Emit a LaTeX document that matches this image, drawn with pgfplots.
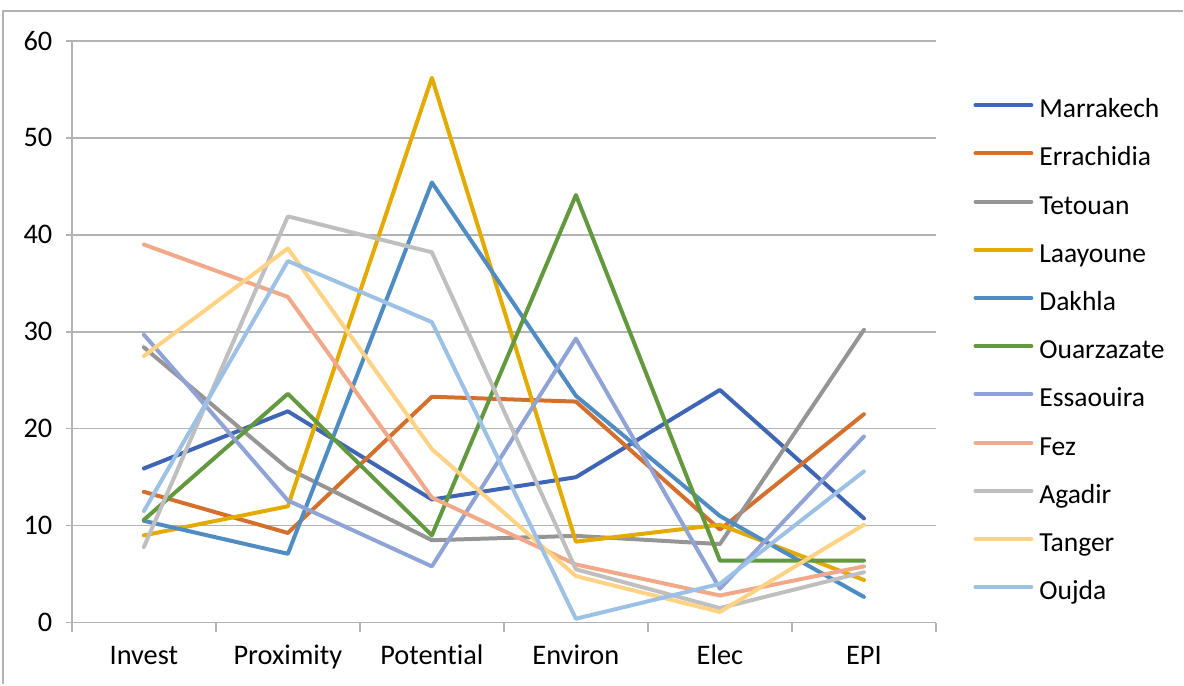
\documentclass[border=0pt]{standalone}
\usepackage{fontspec}
\setmainfont{Carlito}[Ligatures={NoCommon}]
\usepackage{pgfplots}
\usepackage{pgfplotstable}
\pgfplotsset{compat=1.18}

\definecolor{cMar}{HTML}{3F66B4}
\definecolor{cErr}{HTML}{D4702D}
\definecolor{cTet}{HTML}{959595}
\definecolor{cLaa}{HTML}{E3AA00}
\definecolor{cDak}{HTML}{4F8CC4}
\definecolor{cOua}{HTML}{62993E}
\definecolor{cEss}{HTML}{8FA3D6}
\definecolor{cFez}{HTML}{F1A98A}
\definecolor{cAga}{HTML}{BFBFBF}
\definecolor{cTan}{HTML}{FFD284}
\definecolor{cOuj}{HTML}{9DC1E4}
\definecolor{gridc}{HTML}{B3B3B3}

% x: 0 Invest, 1 Proximity, 2 Potential, 3 Environ, 4 Elec, 5 EPI
\pgfplotstableread{
x  Mar   Err   Tet   Laa   Dak   Oua   Ess   Fez   Aga   Tan   Ouj
0  15.9  13.5  28.4  9.0   10.5  10.6  29.7  39.0  7.8   27.5  11.5
1  21.8  9.25  15.9  12.0  7.1   23.6  12.6  33.6  41.9  38.6  37.3
2  12.7  23.3  8.5   56.2  45.4  9.0   5.8   12.9  38.2  17.9  31.0
3  15.0  22.8  8.95  8.35  23.4  44.1  29.3  6.0   5.5   4.8   0.4
4  24.0  9.6   8.1   10.1  11.0  6.4   3.5   2.8   1.5   1.1   4.0
5  10.75 21.5  30.2  4.4   2.65  6.4   19.2  5.8   5.2   10.1  15.6
}\citydata

\begin{document}
\begin{tikzpicture}
\fontsize{13.8bp}{16bp}\selectfont
\begin{axis}[
  at={(0,0)}, anchor=south west,
  width=433bp, height=291.5bp, scale only axis,
  xmin=-0.5, xmax=5.5, ymin=0, ymax=60,
  ytick={0,10,...,60},
  xtick={0,...,5},
  xticklabels={Invest,Proximity,Potential,Environ,Elec,EPI},
  minor xtick={-0.5,0.5,...,5.5},
  xtick style={draw=none},
  minor x tick style={draw=gridc, line width=0.75bp},
  y tick style={draw=gridc, line width=0.75bp},
  major tick length=3bp, minor tick length=4.5bp,
  tick align=outside,
  axis x line*=bottom, axis y line*=left,
  axis line style={draw=gridc, line width=0.75bp},
  ymajorgrids, grid style={draw=gridc, line width=0.75bp},
  /pgf/number format/assume math mode=true,
  tick label style={font=\fontsize{14.2bp}{16bp}\selectfont},
  xticklabel style={yshift=-3.5bp, text height=9.5bp, text depth=3bp},
  yticklabel style={xshift=-2bp},
  every axis plot/.append style={line width=2bp, line join=round, line cap=round, no markers},
  legend image code/.code={\draw[#1] (0bp,3.3bp) -- (28bp,3.3bp);},
  legend cell align=left,
  legend style={draw=none, fill=none, at={(1.043,0.464)}, anchor=west,
    inner sep=0pt, column sep=3bp, row sep=12.15bp,
    nodes={inner sep=0pt, text height=9bp, text depth=3bp},
    font=\fontsize{13.8bp}{16bp}\selectfont},
]
\addplot[cMar] table[x=x, y=Mar] {\citydata};
\addplot[cErr] table[x=x, y=Err] {\citydata};
\addplot[cTet] table[x=x, y=Tet] {\citydata};
\addplot[cLaa] table[x=x, y=Laa] {\citydata};
\addplot[cDak] table[x=x, y=Dak] {\citydata};
\addplot[cOua] table[x=x, y=Oua] {\citydata};
\addplot[cEss] table[x=x, y=Ess] {\citydata};
\addplot[cFez] table[x=x, y=Fez] {\citydata};
\addplot[cAga] table[x=x, y=Aga] {\citydata};
\addplot[cTan] table[x=x, y=Tan] {\citydata};
\addplot[cOuj] table[x=x, y=Ouj] {\citydata};
\legend{Marrakech,Errachidia,Tetouan,Laayoune,Dakhla,Ouarzazate,Essaouira,Fez,Agadir,Tanger,Oujda}
\end{axis}
% outer chart frame (top and left edges visible)
\draw[gridc, line width=0.6bp] (-34.5bp,-31bp) -- (-34.5bp,306.5bp) -- (557bp,306.5bp);
\useasboundingbox (-36bp,-30bp) rectangle (556bp,312bp);
\end{tikzpicture}
\end{document}
